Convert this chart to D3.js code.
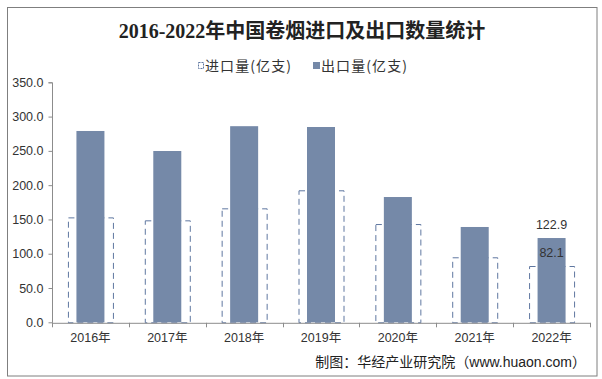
<!DOCTYPE html>
<html><head><meta charset="utf-8">
<script src="https://cdn.jsdelivr.net/npm/d3@7"></script>
<style>body{margin:0;background:#fff}svg{display:block}</style>
</head><body>
<svg id="c" width="602" height="379"></svg>
<script>
const years = ["2016年","2017年","2018年","2019年","2020年","2021年","2022年"];
const importVals = [153.0, 148.7, 166.2, 192.5, 143.3, 94.8, 82.1];
const exportVals = [279.0, 249.8, 286.0, 284.8, 182.7, 139.0, 122.9];
const yTicks = [0, 50, 100, 150, 200, 250, 300, 350];
const seriesNames = ["进口量(亿支)", "出口量(亿支)"];
const title = "2016-2022年中国卷烟进口及出口数量统计";
const source = "制图：华经产业研究院（www.huaon.com）";

const svg = d3.select("#c");
const W = 602, H = 379;
const m = {l:52, r:12, t:81, b:57};
const x = d3.scaleBand().domain(years).range([m.l, W - m.r]).padding(0);
const y = d3.scaleLinear().domain([0, 350]).range([322.3, m.t + 1.3]);
const sansFont = "'Liberation Sans', Arial, 'Noto Sans CJK SC', sans-serif";
const fillC = "#7589a8", dashC = "#5f77a0", axisC = "#8c8c8c";

svg.append("rect").attr("x",7.5).attr("y",7.5).attr("width",589.5).attr("height",368.5)
  .attr("fill","#fff").attr("stroke","#7f7f7f").attr("stroke-width",1);

svg.append("text").attr("x",302).attr("y",38).attr("text-anchor","middle")
  .attr("font-family","'Liberation Serif','Noto Sans CJK SC',serif").attr("font-weight","bold")
  .attr("font-size",20).attr("fill","#222").text(title);

// legend
const lg = svg.append("g").attr("font-family","'Noto Sans CJK SC', sans-serif").attr("font-size",14).attr("fill","#333");
lg.append("rect").attr("x",198.5).attr("y",62.5).attr("width",5).attr("height",6)
  .attr("fill","#fff").attr("stroke",dashC).attr("stroke-dasharray","2,1");
lg.append("text").attr("x",205).attr("y",70.5).attr("textLength",86).text(seriesNames[0]);
lg.append("rect").attr("x",313).attr("y",62).attr("width",7).attr("height",7).attr("fill",fillC);
lg.append("text").attr("x",321).attr("y",70.5).attr("textLength",86).text(seriesNames[1]);

// import bars (dashed, wider)
const wi = 45, we = 28;
svg.append("g").selectAll("rect").data(years).join("rect")
  .attr("x", d => x(d) + x.bandwidth()/2 - wi/2 + 0.5)
  .attr("y", (d,i) => y(importVals[i]) + 0.5)
  .attr("width", wi)
  .attr("height", (d,i) => y(0) - y(importVals[i]))
  .attr("fill","none").attr("stroke",dashC).attr("stroke-width",1)
  .attr("stroke-dasharray","6,4");

// export bars
svg.append("g").selectAll("rect").data(years).join("rect")
  .attr("x", d => x(d) + x.bandwidth()/2 - we/2)
  .attr("y", (d,i) => y(exportVals[i]))
  .attr("width", we)
  .attr("height", (d,i) => y(0) - y(exportVals[i]))
  .attr("fill", fillC);

// axes
const ya = svg.append("g").attr("transform",`translate(${m.l + 0.5},0)`)
  .call(d3.axisLeft(y).tickValues(yTicks).tickFormat(d3.format(".1f")).tickSize(4).tickPadding(5));
ya.select(".domain").attr("stroke",axisC).attr("d",`M-4,${y(350)+0.5}H0V${y(0)+0.5}`);
ya.selectAll(".tick line").attr("stroke",axisC);
ya.selectAll("text").attr("font-family",sansFont).attr("font-size",12.5).attr("fill","#333");

const xa = svg.append("g").attr("transform",`translate(0,${y(0)+0.5})`)
  .call(d3.axisBottom(x).tickSize(0).tickPadding(10));
xa.select(".domain").attr("stroke",axisC);
xa.selectAll("text").attr("font-family",sansFont).attr("font-size",12.5).attr("fill","#333");
// boundary ticks between categories
const bounds = years.map(d => x(d)).concat([W - m.r]);
svg.append("g").selectAll("line").data(bounds).join("line")
  .attr("x1", d => Math.round(d)+0.5).attr("x2", d => Math.round(d)+0.5)
  .attr("y1", y(0)+0.5).attr("y2", y(0)+5)
  .attr("stroke",axisC);

// data labels for last year
const li = years.length - 1;
const lc = x(years[li]) + x.bandwidth()/2;
const dl = svg.append("g").attr("font-family",sansFont).attr("font-size",12.5).attr("fill","#333").attr("text-anchor","middle");
dl.append("text").attr("x",lc).attr("y",y(exportVals[li]) - 9).text(exportVals[li].toFixed(1));
dl.append("text").attr("x",lc).attr("y",y(importVals[li]) - 9).text(importVals[li].toFixed(1));

// source
svg.append("text").attr("x",586).attr("y",367).attr("text-anchor","end")
  .attr("font-family",sansFont).attr("font-size",14).attr("fill","#222").text(source);
</script>
</body></html>
